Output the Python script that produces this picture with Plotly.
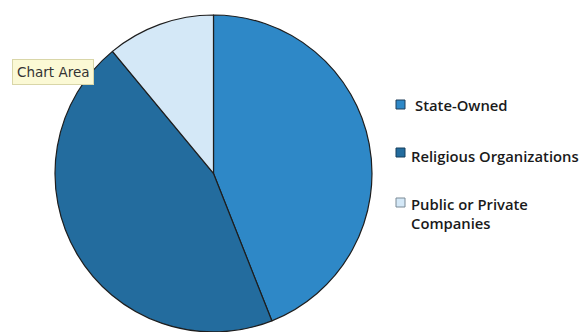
import plotly.graph_objects as go

W, H = 587, 332

labels = ["State-Owned", "Religious Organizations", "Public or Private Companies"]
legend_text = ["State-Owned", "Religious Organizations", "Public or Private<br>Companies"]
values = [44, 45, 11]
colors = ["#2E88C7", "#236C9E", "#D4E8F7"]

fig = go.Figure()
fig.add_trace(go.Pie(
    labels=labels,
    values=values,
    sort=False,
    direction="clockwise",
    rotation=0,
    textinfo="none",
    hoverinfo="label+percent",
    marker=dict(colors=colors, line=dict(color="#1E1E1E", width=1.2)),
    domain=dict(x=[0.0937, 0.6337], y=[0.0, 0.955]),
    showlegend=False,
))

def px(x):
    return x / W

def py(y):
    return 1 - y / H

# manual legend: squares + labels
sq = [(396, 100), (396, 148), (396, 198)]
txt_pos = [(413, 105), (409, 156), (409, 213)]
border = ["#1E3F5A", "#163E5C", "#7A8A96"]
shapes = []
annotations = []
for i in range(len(labels)):
    x0, y0 = sq[i]
    shapes.append(dict(type="rect", xref="paper", yref="paper",
                       x0=px(x0), x1=px(x0 + 9), y0=py(y0 + 9), y1=py(y0),
                       fillcolor=colors[i], line=dict(color=border[i], width=1)))
    tx, ty = txt_pos[i]
    annotations.append(dict(text=legend_text[i], xref="paper", yref="paper",
                            x=px(tx), y=py(ty), xanchor="left", yanchor="middle",
                            align="left", showarrow=False,
                            font=dict(family="Open Sans", size=14.8, weight=600, color="#1a1a1a")))

# "Chart Area" tooltip box
annotations.append(dict(text="Chart Area", xref="paper", yref="paper",
                        x=px(12), y=py(72), xanchor="left", yanchor="middle",
                        showarrow=False, bgcolor="#FBF9D5", bordercolor="#D9D6A8",
                        borderwidth=1, borderpad=4,
                        font=dict(family="DejaVu Sans", size=13.5, color="#333333")))

fig.update_layout(
    width=W, height=H, autosize=False,
    margin=dict(l=0, r=0, t=0, b=0),
    paper_bgcolor="white", plot_bgcolor="white",
    shapes=shapes, annotations=annotations,
)

fig.write_html("out.html")
